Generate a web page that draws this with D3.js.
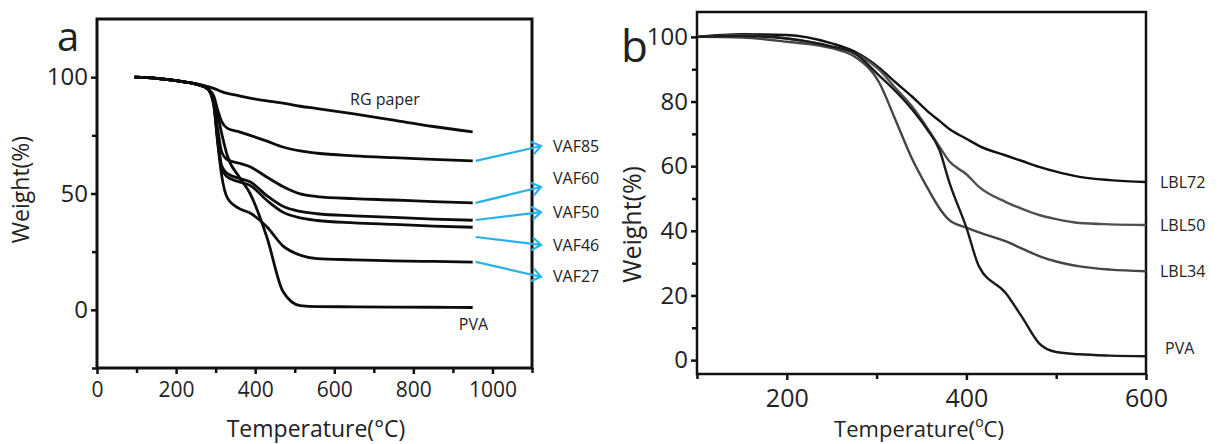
<!DOCTYPE html>
<html>
<head>
<meta charset="utf-8">
<script src="https://cdn.jsdelivr.net/npm/d3@7"></script>
<style>
  body { margin: 0; background: #fff; }
  text { font-family: "Open Sans", sans-serif; fill: #222; }
</style>
</head>
<body>
<div class="chart"></div>
<script>
// ---- panel a data (temperature °C, weight %) ----
const tempA = [95, 150, 200, 250, 280, 295, 305, 315, 330, 360, 387, 430, 470, 514, 557, 650, 750, 850, 950];
const rgPaper = [100, 99.5, 98.5, 97.2, 96, 95.2, 94.5, 93.8, 93, 92, 91, 89.8, 88.8, 87.5, 86.5, 84.2, 81.5, 78.8, 76.5];
const vaf85 = [100, 99.5, 98.5, 97, 95, 92, 86, 81, 78, 76.5, 75, 72.5, 70, 68.3, 67.3, 66.2, 65.4, 64.7, 64];
const vaf60 = [100, 99.5, 98.5, 97, 95, 90, 78, 68, 64.5, 63, 61.5, 57, 53, 49.8, 48.7, 47.8, 47.2, 46.5, 46];
const vaf50 = [100, 99.5, 98.5, 97, 95, 89, 74, 62, 58.5, 56.5, 55, 49, 44.5, 42.3, 41.3, 40.4, 39.7, 39, 38.5];
const vaf46 = [100, 99.5, 98.5, 97, 95, 89, 73, 61, 57, 55, 53.5, 47, 42, 39.5, 38.4, 37.4, 36.7, 36, 35.5];
const vaf27 = [100, 99.5, 98.5, 97, 95, 88, 72, 58, 48, 43.5, 41.6, 35.6, 27.5, 23.5, 22, 21.5, 21, 20.8, 20.5];
const pvaA = [100, 99.5, 98.5, 97, 95, 90, 84, 76, 66, 57, 50, 31, 8, 1.8, 1.4, 1.3, 1.2, 1.1, 1];

// ---- panel b data ----
const tempB = [100, 150, 200, 250, 275, 303, 320, 340, 356, 370, 381, 400, 414, 444, 462, 481, 500, 526, 560, 600];
const lbl72 = [100, 100.8, 100.6, 98, 95.5, 90.4, 86.2, 81.4, 77.2, 74, 71.5, 68.5, 66.3, 63.3, 61.6, 59.8, 58.3, 56.7, 55.7, 55.1];
const lbl50 = [100, 100.5, 99.5, 97, 95, 89.8, 84.5, 78.3, 72, 66, 61.5, 57.5, 53.6, 48.9, 46.8, 44.9, 43.6, 42.4, 42, 41.8];
const lbl34 = [100, 99.8, 98.5, 96.5, 94, 85.8, 75, 62, 53.6, 47, 43.3, 41, 39.5, 36.7, 34.5, 32.2, 30.5, 29, 28, 27.5];
const pvaB = [100, 100.3, 99.5, 97, 95, 88, 83.5, 77.4, 71.5, 65, 55, 41, 29, 20.7, 13.3, 5.2, 2.5, 1.8, 1.4, 1.2];

const seriesA = [
  {name: 'RG paper', values: rgPaper},
  {name: 'VAF85', values: vaf85},
  {name: 'VAF60', values: vaf60},
  {name: 'VAF50', values: vaf50},
  {name: 'VAF46', values: vaf46},
  {name: 'VAF27', values: vaf27},
  {name: 'PVA', values: pvaA}
];
const seriesB = [
  {name: 'LBL72', values: lbl72, color: '#111'},
  {name: 'LBL50', values: lbl50, color: '#505050'},
  {name: 'LBL34', values: lbl34, color: '#454545'},
  {name: 'PVA', values: pvaB, color: '#1a1a1a'}
];

// arrow annotations of panel a: from weight at curve end -> label weight
const arrowNames = ['VAF85', 'VAF60', 'VAF50', 'VAF46', 'VAF27'];
const arrowFrom = [64, 46, 38.6, 31.3, 20.6];
const arrowTo = [70.4, 52.8, 42, 27.9, 14.2];
const labelAt = [70.4, 56.7, 42, 27.9, 14.2];

const W = 1218, H = 444;
const svg = d3.select('.chart').append('svg')
  .attr('width', W)
  .attr('height', H);

svg.append('defs').append('marker')
  .attr('id', 'head')
  .attr('markerUnits', 'userSpaceOnUse')
  .attr('markerWidth', 14)
  .attr('markerHeight', 16)
  .attr('refX', 10)
  .attr('refY', 8)
  .attr('orient', 'auto')
  .append('path')
  .attr('d', 'M1,1.5 L10,8 L1,14.5')
  .attr('fill', 'none')
  .attr('stroke', '#27b1ea')
  .attr('stroke-width', 2.2);

function drawAxes(g, x, y, o) {
  const w = x.range()[1], h = y.range()[0];
  // minor ticks
  g.append('g').attr('transform', `translate(0,${h})`)
    .call(d3.axisBottom(x).tickValues(o.xMinor).tickSize(o.minorLen).tickFormat(''))
    .call(a => a.select('.domain').remove())
    .selectAll('line').attr('stroke', '#111').attr('stroke-width', 2.5);
  g.append('g')
    .call(d3.axisLeft(y).tickValues(o.yMinor).tickSize(o.minorLen).tickFormat(''))
    .call(a => a.select('.domain').remove())
    .selectAll('line').attr('stroke', '#111').attr('stroke-width', 2.5);
  // major ticks
  const xa = g.append('g').attr('transform', `translate(0,${h})`)
    .call(d3.axisBottom(x).tickValues(o.xMajor).tickSize(o.majorLen)
      .tickPadding(o.xPad).tickFormat(d3.format('d')))
    .call(a => a.select('.domain').remove());
  xa.selectAll('line').attr('stroke', '#111').attr('stroke-width', 2.5);
  xa.selectAll('text').style('font-size', o.xFont + 'px').attr('fill', '#222');
  const ya = g.append('g')
    .call(d3.axisLeft(y).tickValues(o.yMajor).tickSize(o.majorLen).tickPadding(3))
    .call(a => a.select('.domain').remove());
  ya.selectAll('line').attr('stroke', '#111').attr('stroke-width', 2.5);
  ya.selectAll('text').style('font-size', o.yFont + 'px').attr('fill', '#222');
  // frame
  g.append('rect')
    .attr('width', w).attr('height', h)
    .attr('fill', 'none')
    .attr('stroke', '#111')
    .attr('stroke-width', o.frame);
}

// ================= panel a =================
const ga = svg.append('g').attr('transform', 'translate(97,19)');
const xa = d3.scaleLinear().domain([0, 1100]).range([0, 435]);
const ya = d3.scaleLinear().domain([-25, 125]).range([349, 0]);

drawAxes(ga, xa, ya, {
  xMajor: [0, 200, 400, 600, 800, 1000], xMinor: [100, 300, 500, 700, 900, 1100],
  yMajor: [0, 50, 100], yMinor: [-25, 25, 75],
  majorLen: 6, minorLen: 5, xFont: 21, yFont: 24, xPad: 8, frame: 3
});

const lineA = d3.line()
  .x((d, i) => xa(tempA[i]))
  .y(d => ya(d))
  .curve(d3.curveMonotoneX);

ga.selectAll('.curveA').data(seriesA).join('path')
  .attr('class', 'curveA')
  .attr('d', d => lineA(d.values))
  .attr('fill', 'none')
  .attr('stroke', '#0d0d0d')
  .attr('stroke-width', 2.8)
  .attr('stroke-linejoin', 'round');

ga.append('text').attr('x', xa(640)).attr('y', ya(88))
  .style('font-size', '16px').text('RG paper');
ga.append('text').attr('x', xa(915)).attr('y', ya(-8.5))
  .style('font-size', '16px').text('PVA');

// arrows and labels
const xTip = 444;
ga.selectAll('.arrow').data(arrowNames).join('line')
  .attr('class', 'arrow')
  .attr('x1', xa(950) + 3)
  .attr('y1', (d, i) => ya(arrowFrom[i]))
  .attr('x2', xTip)
  .attr('y2', (d, i) => ya(arrowTo[i]))
  .attr('stroke', '#27b1ea')
  .attr('stroke-width', 2.2)
  .attr('marker-end', 'url(#head)');
ga.selectAll('.vlab').data(arrowNames).join('text')
  .attr('class', 'vlab')
  .attr('x', xTip + 12)
  .attr('y', (d, i) => ya(labelAt[i]))
  .attr('dy', '0.35em')
  .style('font-size', '16px')
  .text(d => d);

ga.append('text').attr('x', -40).attr('y', 32)
  .style('font-size', '40px').text('a');
ga.append('text')
  .attr('transform', `translate(-68,${ya(50) - 4}) rotate(-90)`)
  .attr('text-anchor', 'middle')
  .style('font-size', '23px')
  .text('Weight(%)');
ga.append('text')
  .attr('x', 219).attr('y', 418)
  .attr('text-anchor', 'middle')
  .style('font-size', '23px')
  .text('Temperature(°C)');

// ================= panel b =================
const gb = svg.append('g').attr('transform', 'translate(697,12)');
const xb = d3.scaleLinear().domain([100, 600]).range([0, 449]);
const yb = d3.scaleLinear().domain([-4.3, 107.7]).range([362, 0]);

drawAxes(gb, xb, yb, {
  xMajor: [200, 400, 600], xMinor: [100, 300, 500],
  yMajor: [0, 20, 40, 60, 80, 100], yMinor: [10, 30, 50, 70, 90],
  majorLen: 6, minorLen: 5, xFont: 25, yFont: 24, xPad: 9, frame: 2.5
});

const lineB = d3.line()
  .x((d, i) => xb(tempB[i]))
  .y(d => yb(d))
  .curve(d3.curveMonotoneX);

gb.selectAll('.curveB').data(seriesB).join('path')
  .attr('class', 'curveB')
  .attr('d', d => lineB(d.values))
  .attr('fill', 'none')
  .attr('stroke', d => d.color)
  .attr('stroke-width', 2.4);

gb.selectAll('.blab').data(seriesB).join('text')
  .attr('class', 'blab')
  .attr('x', d => d.name === 'PVA' ? 468 : 463)
  .attr('y', d => d.name === 'PVA' ? yb(3.7) : yb(d.values[d.values.length - 1]))
  .attr('dy', '0.35em')
  .style('font-size', '16px')
  .text(d => d.name);

gb.append('text').attr('x', -76).attr('y', 50)
  .style('font-size', '44px').text('b');
gb.append('text')
  .attr('transform', `translate(-56,${yb(42)}) rotate(-90)`)
  .attr('text-anchor', 'middle')
  .style('font-size', '25px')
  .text('Weight(%)');
const tb = gb.append('text')
  .attr('x', 222).attr('y', 425)
  .attr('text-anchor', 'middle')
  .style('font-size', '22px');
tb.append('tspan').text('Temperature(');
tb.append('tspan').attr('dy', -10).style('font-size', '14px').text('o');
tb.append('tspan').attr('dy', 10).text('C)');
</script>
</body>
</html>
